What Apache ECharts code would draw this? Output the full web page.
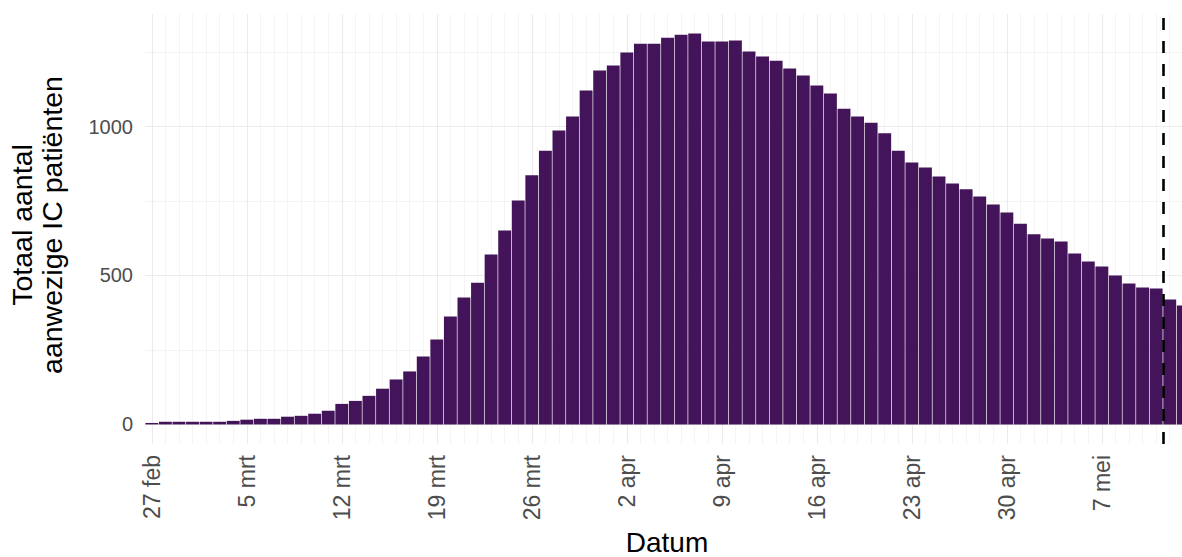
<!DOCTYPE html>
<html>
<head>
<meta charset="utf-8">
<script src="https://cdn.jsdelivr.net/npm/echarts@6/dist/echarts.min.js"></script>
<style>
html,body{margin:0;padding:0;background:#fff;}
#chart{width:1182px;height:557px;overflow:hidden;}
</style>
</head>
<body>
<div id="chart"></div>
<script>
// Daily dates starting 27 feb 2020 (one bar per day)
const startDate = '2020-02-27';
// Total IC patients present per day
const icValues = [
  5, 9, 9, 9, 9, 9, 12, 16, 19, 19,
  26, 29, 36, 46, 69, 79, 96, 120, 151, 178,
  228, 285, 362, 426, 476, 570, 651, 752, 836, 919,
  987, 1034, 1121, 1188, 1205, 1248, 1278, 1278, 1298, 1308,
  1312, 1285, 1285, 1289, 1252, 1235, 1221, 1195, 1171, 1138,
  1111, 1060, 1034, 1013, 977, 919, 879, 862, 832, 809,
  789, 765, 738, 711, 674, 638, 624, 614, 574, 547,
  530, 500, 473, 460, 456, 419, 399
];
// X tick positions (day index) and labels
const xTickDays = [0, 7, 14, 21, 28, 35, 42, 49, 56, 63, 70];
const xTickLabels = ['27 feb', '5 mrt', '12 mrt', '19 mrt', '26 mrt', '2 apr', '9 apr', '16 apr', '23 apr', '30 apr', '7 mei'];
// Y ticks
const yMajorTicks = [0, 500, 1000];
const yMinorTicks = [250, 750, 1250];
// Dashed reference line position (day index)
const cutoffDay = 74.5;

const dayIndex = icValues.map((v, i) => i);
const barData = icValues.map((v, i) => [i, v]);
const yMax = Math.max.apply(null, icValues);
const yPad = yMax * 0.05;
const xMin = -0.5, xMax = 76.42;

const FONT = "'Liberation Sans', Arial, Helvetica, sans-serif";
const GRID = '#EBEBEB';

const chart = echarts.init(document.getElementById('chart'), null, {renderer: 'svg'});
chart.setOption({
  animation: false,
  backgroundColor: '#ffffff',
  textStyle: {fontFamily: FONT},
  grid: {left: 145, right: -7, top: 14, bottom: 113, containLabel: false, outerBoundsMode: 'none'},
  xAxis: [
    {
      type: 'value', min: xMin, max: xMax,
      axisLine: {show: false},
      axisTick: {show: false, customValues: xTickDays},
      axisLabel: {
        customValues: xTickDays,
        rotate: 90, margin: 11,
        color: '#4D4D4D', fontSize: 23, fontFamily: FONT,
        formatter: function (v) { const k = xTickDays.indexOf(Math.round(v)); return k >= 0 ? xTickLabels[k] : ''; }
      },
      splitLine: {show: true, lineStyle: {color: GRID, width: 1.1}},
      name: 'Datum', nameLocation: 'middle', nameGap: 79,
      nameTextStyle: {color: '#000', fontSize: 28, fontFamily: FONT}
    },
    {
      type: 'value', min: xMin, max: xMax,
      axisLine: {show: false},
      axisTick: {show: false, customValues: dayIndex},
      axisLabel: {show: false},
      splitLine: {show: true, lineStyle: {color: GRID, width: 0.55}}
    }
  ],
  yAxis: [
    {
      type: 'value', min: -yPad, max: yMax + yPad,
      axisLine: {show: false},
      axisTick: {show: false, customValues: yMajorTicks},
      axisLabel: {customValues: yMajorTicks, color: '#4D4D4D', fontSize: 20, margin: 12, fontFamily: FONT,
        formatter: function (v) { return String(Math.round(v)); }},
      splitLine: {show: true, lineStyle: {color: GRID, width: 1.1}},
      name: 'Totaal aantal\naanwezige IC patiënten', nameLocation: 'middle', nameGap: 78, nameRotate: 90,
      nameTextStyle: {color: '#000', fontSize: 28.5, lineHeight: 30, fontFamily: FONT, align: 'center', padding: [0, 0, 0, 8]}
    },
    {
      type: 'value', min: -yPad, max: yMax + yPad,
      axisLine: {show: false},
      axisTick: {show: false, customValues: yMinorTicks},
      axisLabel: {show: false},
      splitLine: {show: true, lineStyle: {color: GRID, width: 0.55}}
    }
  ],
  series: [{
    type: 'bar',
    data: barData,
    xAxisIndex: 0, yAxisIndex: 0,
    barWidth: 12.9,
    clip: true,
    itemStyle: {color: '#431459'},
    markLine: {
      silent: true, symbol: 'none', label: {show: false},
      lineStyle: {color: '#000', type: [12, 11], width: 2.6},
      data: [{xAxis: cutoffDay}]
    }
  }]
});
</script>
</body>
</html>
